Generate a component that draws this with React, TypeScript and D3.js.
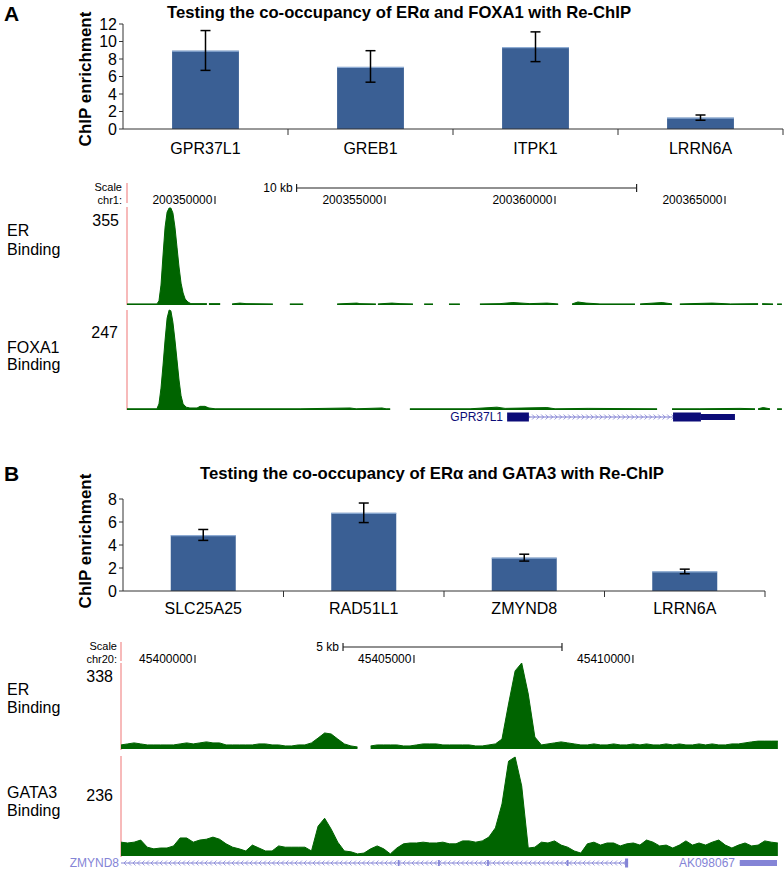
import React from 'react';
import * as d3 from 'd3';

type Pt = [number, number | null];

// ---- A: Re-ChIP, ERa + FOXA1
const sitesA = ['GPR37L1', 'GREB1', 'ITPK1', 'LRRN6A'];
const enrichA = [8.95, 7.1, 9.35, 1.3];
const lowA = [6.7, 5.35, 7.7, 1.0];
const highA = [11.25, 8.95, 11.1, 1.6];
const ticksA = [0, 2, 4, 6, 8, 10, 12];

// ---- B: Re-ChIP, ERa + GATA3
const sitesB = ['SLC25A25', 'RAD51L1', 'ZMYND8', 'LRRN6A'];
const enrichB = [4.85, 6.8, 2.9, 1.7];
const lowB = [4.4, 5.95, 2.6, 1.5];
const highB = [5.35, 7.65, 3.2, 1.9];
const ticksB = [0, 2, 4, 6, 8];

// ---- browser window A (chr1), signal positions are kb from window start
const chromA = 'chr1';
const startA = 200347412;
const endA = 200366676;
const posTicksA = [200350000, 200355000, 200360000, 200365000];
const scaleBarA = [200352400, 200362400];
const maxErA = 355;
const maxFoxa1A = 247;

const erA: Pt[] = [
  [0, 4], [0.88, 4], [0.94, 15], [1.0, 73], [1.06, 183], [1.12, 285], [1.18, 340], [1.24, 355],
  [1.29, 355], [1.35, 337], [1.41, 285], [1.47, 212], [1.53, 139], [1.59, 80], [1.65, 44],
  [1.71, 22], [1.79, 11], [1.88, 5], [2.35, 5], [2.38, null], [2.41, 5], [2.74, 5], [2.91, null],
  [3.09, 4], [3.32, 7], [3.5, 5], [4.29, 4], [4.5, null], [4.79, 4], [5.18, 4], [5.68, null],
  [6.18, 4], [6.76, 7], [6.85, 5], [7.32, 4], [7.35, null], [7.38, 4], [7.79, 7], [8.03, 5],
  [8.41, 4], [8.56, null], [8.74, 4], [9.0, 4], [9.21, null], [9.47, 4], [9.79, 4], [10.09, null],
  [10.38, 4], [10.97, 5], [11.35, 9], [11.85, 5], [12.35, 7], [12.68, 4], [12.88, null],
  [13.09, 4], [13.26, 11], [13.5, 7], [13.91, 4], [14.94, 4], [15.0, null], [15.09, 4],
  [15.74, 9], [16.03, 4], [16.15, null], [16.26, 4], [17.21, 7], [17.74, 4], [18.56, 5],
  [18.62, null], [18.68, 5], [19.0, 4], [19.06, null], [19.12, 4], [19.26, 4],
];

const foxa1A: Pt[] = [
  [0, 3], [0.88, 3], [0.94, 15], [1.0, 54], [1.06, 111], [1.12, 173], [1.18, 227], [1.24, 247],
  [1.29, 245], [1.35, 217], [1.41, 173], [1.47, 124], [1.53, 74], [1.59, 35], [1.65, 15],
  [1.74, 7], [1.85, 5], [2.06, 5], [2.15, 9], [2.29, 9], [2.41, 5], [2.59, 3], [5.09, 3],
  [6.56, 5], [6.74, 3], [7.5, 5], [7.62, 3], [7.74, 3], [8.03, null], [8.32, 3], [10.09, 3],
  [10.88, 7], [11.12, 4], [12.35, 6], [12.59, 3], [13.56, 4], [15.59, 3], [15.82, null],
  [16.03, 3], [16.85, 3], [18.03, 4], [18.47, 3], [18.5, null], [18.56, 3], [18.71, 6],
  [18.91, 3], [19.0, null], [19.12, 3], [19.26, 3],
];

const gpr37l1Exons: [number, number, string][] = [[11.18, 11.82, 'cds'], [16.06, 16.88, 'cds'], [16.88, 17.88, 'utr']];

// ---- browser window B (chr20), signals binned every 0.15 kb
const chromB = 'chr20';
const startB = 45398310;
const endB = 45413290;
const posTicksB = [45400000, 45405000, 45410000];
const scaleBarB = [45403380, 45408380];
const binKbB = 0.15;
const maxErB = 338;
const maxGata3B = 236;

const erB: (number | null)[] = [
  16, 20, 24, 20, 16, 16, 16, 16, 16, 20,
  24, 20, 24, 28, 24, 24, 16, 16, 16, 16,
  16, 20, 20, 16, 16, 12, 12, 16, 16, 24,
  43, 63, 59, 39, 20, 12, 8, null, 12, 16,
  16, 16, 16, 12, 12, 16, 20, 20, 20, 16,
  16, 16, 16, 16, 12, 12, 16, 20, 39, 177,
  307, 338, 216, 47, 16, 20, 24, 28, 24, 20,
  16, 16, 20, 16, 16, 20, 16, 16, 20, 16,
  20, 16, 16, 20, 16, 20, 16, 16, 20, 16,
  20, 16, 16, 20, 20, 24, 28, 31, 31, 31, 31,
];

const gata3B: number[] = [
  33, 31, 33, 38, 21, 17, 19, 19, 24, 43,
  43, 33, 38, 40, 45, 40, 29, 21, 17, 12,
  26, 19, 12, 12, 24, 21, 21, 21, 21, 12,
  71, 90, 64, 33, 12, 10, 5, 7, 17, 24,
  17, 5, 19, 29, 31, 31, 33, 31, 31, 33,
  29, 29, 36, 36, 33, 36, 45, 67, 124, 226,
  236, 167, 19, 21, 33, 31, 36, 26, 21, 12,
  7, 29, 33, 26, 31, 31, 24, 29, 31, 26,
  38, 33, 24, 26, 19, 26, 36, 26, 31, 26,
  33, 38, 26, 19, 26, 31, 24, 26, 36, 33, 31,
];

const zmynd8Exons: [number, number, string][] = [[6.32, 6.36, 'utr'], [7.24, 7.28, 'utr'], [8.36, 8.4, 'utr'], [10.18, 10.22, 'utr'], [11.51, 11.58, 'cds']];
const ak098067Exons: [number, number, string][] = [[14.13, 14.98, 'utr']];

const FONT = 'Liberation Sans, Arial, Helvetica, sans-serif';
const GREEN = '#006400';
const PINK = '#f4a3a3';
const NAVY = '#0c0c78';
const LIGHT = '#8484d6';
const BAR = '#3a5f94';

function BarPanel(props: any) {
  const { letter, letterY, title, titleX, titleY, cats, vals, lo, hi, ticks, top, bottom, left, right, catY, labelY } = props;
  const x = d3.scaleBand().domain(cats).range([left, right]);
  const y = d3.scaleLinear().domain([0, ticks[ticks.length - 1]]).range([bottom, top]);
  const bw = x.bandwidth() * 0.405;
  return (
    <g>
      <text x={4} y={letterY} fontSize={21} fontWeight="bold">{letter}</text>
      <text x={titleX} y={titleY} fontSize={17} fontWeight="bold" textLength={464} lengthAdjust="spacingAndGlyphs"
        dominantBaseline="central">{title}</text>
      <text transform={`translate(85,${labelY}) rotate(-90)`} textAnchor="middle" dominantBaseline="central"
        fontSize={17} fontWeight="bold">ChIP enrichment</text>
      {cats.map((c: string, i: number) => {
        const cx = (x(c) as number) + x.bandwidth() / 2;
        return (
          <g key={c}>
            <rect x={cx - bw / 2} y={y(vals[i])} width={bw} height={bottom - y(vals[i])} fill={BAR} />
            <line x1={cx - bw / 2} x2={cx + bw / 2} y1={y(vals[i]) + 0.5} y2={y(vals[i]) + 0.5} stroke="#9ab8de" strokeWidth={1} />
            <line x1={cx} x2={cx} y1={y(lo[i])} y2={y(hi[i])} stroke="#000" strokeWidth={1.5} />
            <line x1={cx - 5} x2={cx + 5} y1={y(lo[i])} y2={y(lo[i])} stroke="#000" strokeWidth={1.5} />
            <line x1={cx - 5} x2={cx + 5} y1={y(hi[i])} y2={y(hi[i])} stroke="#000" strokeWidth={1.5} />
            <text x={cx} y={catY} textAnchor="middle" dominantBaseline="central" fontSize={16}>{c}</text>
            <line x1={(x(c) as number) + x.bandwidth()} x2={(x(c) as number) + x.bandwidth()} y1={bottom} y2={bottom + 6} stroke="#333" />
          </g>
        );
      })}
      <line x1={left} x2={left} y1={top} y2={bottom} stroke="#333" />
      <line x1={left} x2={right} y1={bottom} y2={bottom} stroke="#333" />
      {ticks.map((t: number) => (
        <g key={t}>
          <line x1={left - 4} x2={left} y1={y(t)} y2={y(t)} stroke="#333" />
          <text x={left - 6} y={y(t)} textAnchor="end" dominantBaseline="central" fontSize={16}>{t}</text>
        </g>
      ))}
    </g>
  );
}

function Signal(props: any) {
  const { pts, x, top, base, max } = props;
  const y = d3.scaleLinear().domain([0, max]).range([base, top]);
  const def = (d: Pt) => d[1] !== null;
  const area = d3.area<Pt>().defined(def).x((d) => x(d[0])).y0(base).y1((d) => y(d[1] as number));
  const line = d3.line<Pt>().defined(def).x((d) => x(d[0])).y((d) => y(d[1] as number));
  return (
    <g>
      <path d={area(pts) || ''} fill={GREEN} />
      <path d={line(pts) || ''} fill="none" stroke={GREEN} strokeWidth={1} />
    </g>
  );
}

function Gene(props: any) {
  const { x, y, name, start, end, strand, exons, color, lineColor, labelRight } = props;
  const x0 = x(start);
  const x1 = x(end);
  const marks = d3.range(x0 + 4, x1 - 3, 4.5);
  return (
    <g>
      <text x={labelRight} y={y} textAnchor="end" dominantBaseline="central" fontSize={12} fill={color}>{name}</text>
      <line x1={x0} x2={x1} y1={y} y2={y} stroke={lineColor} strokeWidth={1} />
      {marks.map((m: number) => (
        <path key={m} fill="none" stroke={lineColor} strokeWidth={0.8}
          d={strand === '+' ? `M${m - 1.5},${y - 2.5}L${m + 1},${y}L${m - 1.5},${y + 2.5}` : `M${m + 1.5},${y - 2.5}L${m - 1},${y}L${m + 1.5},${y + 2.5}`} />
      ))}
      {exons.map(([s, e, t]: [number, number, string]) => {
        const h = t === 'cds' ? 9 : 6;
        return <rect key={s} x={x(s)} y={y - h / 2} width={Math.max(1.2, x(e) - x(s))} height={h} fill={color} />;
      })}
    </g>
  );
}

function Ruler(props: any) {
  const { chrom, start, x, scaleY, labelY, labelRight, posTicks, bar, barLabel } = props;
  const kb = (p: number) => (p - start) / 1000;
  const b0 = x(kb(bar[0]));
  const b1 = x(kb(bar[1]));
  return (
    <g fontSize={12}>
      <text x={labelRight} y={scaleY - 1} textAnchor="end" dominantBaseline="central" fontSize={11}>Scale</text>
      <text x={labelRight} y={labelY + 1} textAnchor="end" dominantBaseline="central" fontSize={11}>{chrom}:</text>
      <text x={b0 - 4} y={scaleY} textAnchor="end" dominantBaseline="central">{barLabel}</text>
      <line x1={b0} x2={b1} y1={scaleY} y2={scaleY} stroke="#222" strokeWidth={1.2} />
      <line x1={b0} x2={b0} y1={scaleY - 4} y2={scaleY + 4} stroke="#222" strokeWidth={1.2} />
      <line x1={b1} x2={b1} y1={scaleY - 4} y2={scaleY + 4} stroke="#222" strokeWidth={1.2} />
      {posTicks.map((p: number) => (
        <g key={p}>
          <text x={x(kb(p)) - 2.5} y={labelY + 1} textAnchor="end" dominantBaseline="central">{p}</text>
          <line x1={x(kb(p))} x2={x(kb(p))} y1={labelY - 3} y2={labelY + 5} stroke="#222" strokeWidth={1.2} />
        </g>
      ))}
    </g>
  );
}

function TrackLabel(props: any) {
  const { name, y1, y2, max, maxY, maxRight } = props;
  return (
    <g fontSize={16}>
      <text x={7} y={y1} dominantBaseline="central">{name}</text>
      <text x={7} y={y2} dominantBaseline="central">Binding</text>
      <text x={maxRight} y={maxY} textAnchor="end" dominantBaseline="central">{max}</text>
    </g>
  );
}

export default function App() {
  const xA = d3.scaleLinear().domain([0, (endA - startA) / 1000]).range([127, 782]);
  const xB = d3.scaleLinear().domain([0, (endB - startB) / 1000]).range([121, 777]);
  const erBPts: Pt[] = erB.map((v, i) => [i * binKbB, v]);
  const gata3BPts: Pt[] = gata3B.map((v, i) => [i * binKbB, v]);

  return (
    <svg width={784} height={870} style={{ position: 'absolute', left: 0, top: 0, background: '#fff' }}
      fontFamily={FONT} fill="#000">
      <rect width={784} height={870} fill="#fff" />

      <BarPanel letter="A" letterY={21} title="Testing the co-occupancy of ERα and FOXA1 with Re-ChIP"
        titleX={167} titleY={12} cats={sitesA} vals={enrichA} lo={lowA} hi={highA} ticks={ticksA}
        top={24} bottom={129} left={123} right={783} catY={148} labelY={79} />

      {/* browser A */}
      <Ruler chrom={chromA} start={startA} x={xA} scaleY={188} labelY={199} labelRight={122}
        posTicks={posTicksA} bar={scaleBarA} barLabel="10 kb" />
      <line x1={127} x2={127} y1={183} y2={203} stroke={PINK} strokeWidth={1.5} />
      <line x1={127} x2={127} y1={207} y2={305} stroke={PINK} strokeWidth={1.5} />
      <line x1={127} x2={127} y1={310} y2={410} stroke={PINK} strokeWidth={1.5} />
      <TrackLabel name="ER" y1={230} y2={249} max={maxErA} maxY={220} maxRight={119} />
      <Signal pts={erA} x={xA} top={208} base={305} max={maxErA} />
      <TrackLabel name="FOXA1" y1={347} y2={364} max={maxFoxa1A} maxY={332} maxRight={118} />
      <Signal pts={foxa1A} x={xA} top={310} base={410} max={maxFoxa1A} />
      <Gene x={xA} y={417} name="GPR37L1" start={11.18} end={17.88} strand="+" exons={gpr37l1Exons}
        color={NAVY} lineColor="#7a7ad0" labelRight={503} />

      <BarPanel letter="B" letterY={481} title="Testing the co-occupancy of ERα and GATA3 with Re-ChIP"
        titleX={200} titleY={473} cats={sitesB} vals={enrichB} lo={lowB} hi={highB} ticks={ticksB}
        top={499} bottom={591} left={123} right={765} catY={608} labelY={541} />

      {/* browser B */}
      <Ruler chrom={chromB} start={startB} x={xB} scaleY={647} labelY={658} labelRight={117}
        posTicks={posTicksB} bar={scaleBarB} barLabel="5 kb" />
      <line x1={121} x2={121} y1={642} y2={661} stroke={PINK} strokeWidth={1.5} />
      <line x1={121} x2={121} y1={663} y2={750} stroke={PINK} strokeWidth={1.5} />
      <line x1={121} x2={121} y1={756} y2={857} stroke={PINK} strokeWidth={1.5} />
      <TrackLabel name="ER" y1={689} y2={707} max={maxErB} maxY={676} maxRight={113} />
      <Signal pts={erBPts} x={xB} top={663} base={749} max={maxErB} />
      <TrackLabel name="GATA3" y1={792} y2={810} max={maxGata3B} maxY={795} maxRight={113} />
      <Signal pts={gata3BPts} x={xB} top={757} base={856} max={maxGata3B} />
      <Gene x={xB} y={863} name="ZMYND8" start={0} end={11.58} strand="-" exons={zmynd8Exons}
        color={LIGHT} lineColor={LIGHT} labelRight={119} />
      <Gene x={xB} y={863} name="AK098067" start={14.13} end={14.98} strand="-" exons={ak098067Exons}
        color={LIGHT} lineColor={LIGHT} labelRight={735} />
    </svg>
  );
}
